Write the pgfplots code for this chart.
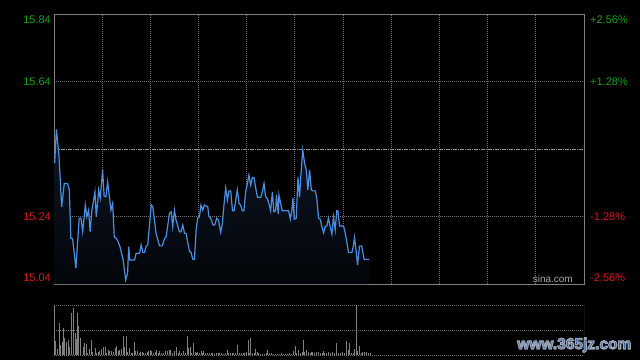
\documentclass[border=0pt]{standalone}
\usepackage{fontspec}
\setmainfont{Liberation Sans}
\usepackage{pgfplots}
\usepackage{pgfplotstable}
\pgfplotsset{compat=1.18}
\definecolor{framec}{RGB}{128,128,128}
\definecolor{gridc}{RGB}{115,115,115}
\definecolor{upg}{RGB}{20,160,20}
\definecolor{dnr}{RGB}{215,25,25}
\definecolor{linec}{RGB}{74,144,226}
\definecolor{volc}{RGB}{128,128,128}
\definecolor{wm}{RGB}{40,85,160}
\definecolor{filltop}{RGB}{14,22,38}
\definecolor{fillbot}{RGB}{3,5,9}

\pgfplotstableread{
m p
0.3 15.398
1.1 15.498
2.3 15.417
3.5 15.269
4.7 15.338
6.2 15.338
7.0 15.319
7.7 15.175
8.5 15.175
10.0 15.087
11.5 15.235
12.3 15.235
13.1 15.195
14.3 15.274
15.0 15.239
15.8 15.259
16.5 15.195
17.3 15.259
18.7 15.313
19.3 15.239
20.4 15.319
21.1 15.294
22.2 15.378
22.9 15.299
23.7 15.299
24.5 15.343
26.0 15.259
26.8 15.279
27.5 15.180
29.0 15.170
30.1 15.151
31.6 15.111
32.7 15.052
33.6 15.072
34.1 15.151
34.6 15.111
36.8 15.111
37.5 15.131
39.1 15.131
39.8 15.156
40.6 15.133
41.3 15.133
42.1 15.153
42.8 15.156
44.4 15.274
45.1 15.269
46.6 15.190
48.2 15.153
49.4 15.153
50.5 15.175
51.2 15.180
52.7 15.249
53.5 15.254
54.2 15.210
55.0 15.259
55.7 15.230
57.3 15.195
58.0 15.195
58.8 15.215
59.6 15.190
60.3 15.190
61.9 15.136
62.6 15.133
63.4 15.113
64.1 15.113
64.9 15.200
65.6 15.235
66.4 15.239
67.1 15.274
67.9 15.259
68.7 15.274
70.2 15.269
70.8 15.239
71.6 15.235
72.6 15.215
73.4 15.215
74.3 15.235
75.1 15.230
76.1 15.193
76.9 15.220
77.6 15.274
78.4 15.324
79.2 15.289
79.9 15.316
80.7 15.316
81.5 15.257
82.2 15.257
83.7 15.319
84.5 15.279
85.2 15.274
86.0 15.257
86.7 15.257
87.5 15.313
88.3 15.338
89.0 15.363
89.8 15.333
90.6 15.356
91.3 15.356
92.1 15.324
92.9 15.297
94.4 15.297
95.1 15.313
95.9 15.338
96.6 15.299
97.4 15.294
98.1 15.279
98.9 15.257
99.7 15.313
100.4 15.254
101.2 15.257
101.6 15.304
102.4 15.247
102.7 15.304
103.5 15.279
104.2 15.257
107.1 15.257
107.9 15.232
108.6 15.259
109.1 15.294
109.7 15.232
110.6 15.235
111.4 15.356
112.1 15.297
112.9 15.378
113.6 15.437
114.4 15.398
115.2 15.378
115.9 15.319
116.7 15.378
117.5 15.319
118.2 15.316
119.3 15.316
120.0 15.294
120.8 15.235
121.6 15.232
122.3 15.210
123.1 15.192
123.8 15.210
124.6 15.212
125.3 15.235
126.1 15.210
126.9 15.188
127.6 15.239
128.4 15.200
129.1 15.257
129.6 15.257
130.4 15.212
132.2 15.212
133.0 15.190
133.7 15.165
134.5 15.133
136.0 15.133
136.7 15.153
137.2 15.178
138.0 15.136
138.6 15.096
139.5 15.153
140.5 15.153
141.6 15.113
144.0 15.113
}\pricedata

\pgfplotstableread{
m v
0.5 14
1.5 5.7
2.4 32.3
2.9 10
3.7 12.7
4.3 26.7
5.0 16.7
5.8 13.3
6.5 15
7.3 7.7
7.9 42.3
8.8 46.7
9.6 22.3
10.2 15.7
10.9 42.3
11.4 29
12.3 16.7
13.4 7.7
14.0 12.3
14.7 11
15.5 2.3
16.1 5.7
17.0 15
17.8 3.3
18.8 6.7
19.5 2.3
20.4 3.3
21.0 4.3
21.7 5.7
22.5 7.7
23.4 7.7
24.0 2.3
24.9 5
25.5 4.3
26.4 4
27.0 3
28.0 6.7
28.6 9
29.5 4.3
30.1 5
30.8 5.7
31.6 19
32.2 7.7
33.0 19
33.6 3.3
34.3 6.7
35.3 1.7
36.0 2.3
36.6 13.3
37.4 4.3
38.1 4
38.9 1.7
39.5 3.3
40.4 3
41.0 2.3
41.9 1.7
42.5 3.3
43.2 4.3
44.1 5
44.7 4.3
45.3 1.7
46.2 3.3
46.8 5
47.7 2.3
48.3 4.3
49.2 1.7
49.8 2.3
50.7 3.7
51.7 4.3
52.6 5
53.2 5
54.1 1.7
55.0 4
55.9 7.7
56.8 1.7
57.4 4
58.2 2.3
59.0 4
59.9 1.7
60.8 19
61.5 7.3
62.1 8.3
62.9 1.7
63.5 12.3
64.4 3
65.0 2.3
65.6 3
66.5 1.7
67.2 4
67.8 1.7
68.4 4
69.3 1.7
69.9 2.3
70.8 2.3
71.7 1.7
72.3 1.7
73.2 1
74.1 1.7
74.9 2.3
75.7 1.7
76.6 2.3
77.5 1
78.1 1.7
79.0 5
79.6 1.7
80.5 2.3
81.4 1.7
82.0 1.7
83.0 2.3
83.9 10
84.5 1.7
85.4 2.3
86.3 1.7
87.2 2.3
87.8 3.3
88.7 15
89.3 2.3
89.9 16.7
90.6 2.3
91.5 1.7
92.1 5.7
92.7 3.3
93.6 1.7
94.5 1
95.4 1
96.3 1
96.9 1.7
97.5 5
98.5 2.3
99.4 1.7
100.3 1
101.2 1
102.1 1
103.0 1
103.9 1.7
104.8 1
105.7 1
106.7 1
107.6 1.7
108.5 1
109.4 4
110.3 9
110.9 1.7
111.8 5
112.4 2.3
113.4 3.3
114.0 15
114.6 3.3
115.2 5
116.1 3
117.0 1.7
117.6 3
118.2 3.3
119.1 1.7
119.7 3
120.6 3.3
121.5 1.7
122.5 1.7
123.1 4
123.7 1.7
124.3 1.7
125.2 3
126.1 1.7
127.0 3
127.9 1.7
129.1 12.3
129.7 1.7
130.7 1.7
131.6 3.3
132.5 1.7
133.7 14.3
134.3 5
134.9 12.3
135.8 1.7
136.7 1.7
137.3 5.7
138.0 50
138.6 4.3
139.5 9
140.4 1.7
141.0 3
141.8 3
142.5 3
143.4 1.7
144.3 1.7
}\voldata

\begin{document}
\begin{tikzpicture}[x=1pt,y=1pt]
\fill[black] (0,0) rectangle (640,360);
% price panel
\begin{axis}[at={(54pt,76pt)}, anchor=south west, scale only axis,
  width=530pt, height=270pt,
  xmin=0, xmax=242, ymin=15.04, ymax=15.84,
  xtick={22,44,...,220}, ytick={15.24,15.64},
  xticklabels={}, yticklabels={},
  major tick length=0pt,
  xmajorgrids, ymajorgrids,
  grid style={gridc, line width=1pt, dash pattern=on 1pt off 1pt},
  extra y ticks={15.44}, extra y tick labels={},
  extra y tick style={grid=major, major grid style={color={rgb,255:red,150;green,150;blue,150}, line width=1pt, dash pattern=on 4pt off 1pt on 1pt off 1pt}},
  axis line style={framec, line width=1pt},
  axis background/.style={fill=black}]
\addplot[draw=none, top color=filltop, bottom color=fillbot] table[x=m,y=p] {\pricedata} \closedcycle;
\addplot[linec, line width=1.2pt, mark=none] table[x=m,y=p] {\pricedata};
\end{axis}
% volume panel
\begin{axis}[at={(54pt,5pt)}, anchor=south west, scale only axis,
  width=530pt, height=50pt,
  xmin=0, xmax=242, ymin=0, ymax=50,
  xtick=\empty, ytick={0,25,50}, yticklabels={},
  major tick length=0pt, ymajorgrids,
  grid style={gridc, line width=1pt, dash pattern=on 1pt off 1pt},
  axis line style={draw=none}]
\addplot[ycomb, volc, line width=1pt, mark=none] table[x=m,y=v] {\voldata};
\draw[framec, line width=1pt] (rel axis cs:0,0) -- (rel axis cs:0,1);
\draw[framec, line width=1pt] (rel axis cs:1,0) -- (rel axis cs:1,1);
\end{axis}
% labels
\begin{scope}[every node/.style={inner sep=0pt, font=\fontsize{11}{13}\selectfont}]
\node[anchor=east, text=upg] at (51,340) {15.84};
\node[anchor=east, text=upg] at (51,278) {15.64};
\node[anchor=east, text=dnr] at (51,143) {15.24};
\node[anchor=east, text=dnr] at (51,82) {15.04};
\node[anchor=west, text=upg] at (590,340) {+2.56\%};
\node[anchor=west, text=upg] at (590,278) {+1.28\%};
\node[anchor=west, text=dnr] at (590,143) {-1.28\%};
\node[anchor=west, text=dnr] at (590,82) {-2.56\%};
\node[anchor=east, text={rgb,255:red,170;green,170;blue,170}, font=\fontsize{10}{12}\selectfont] at (573,80.7) {sina.com};
\end{scope}
% watermark (outlined text: fill + stroke)
\node[inner sep=0pt, font=\bfseries\fontsize{15.5}{17}\selectfont, text=wm] at (574.3,15) {\special{pdf:literal direct 2 Tr 1.1 w 1 j 0.62 0.66 0.72 RG}www.365jz.com\special{pdf:literal direct 0 Tr}};
\pgfresetboundingbox
\useasboundingbox (0,0) rectangle (640,360);
\end{tikzpicture}
\end{document}
